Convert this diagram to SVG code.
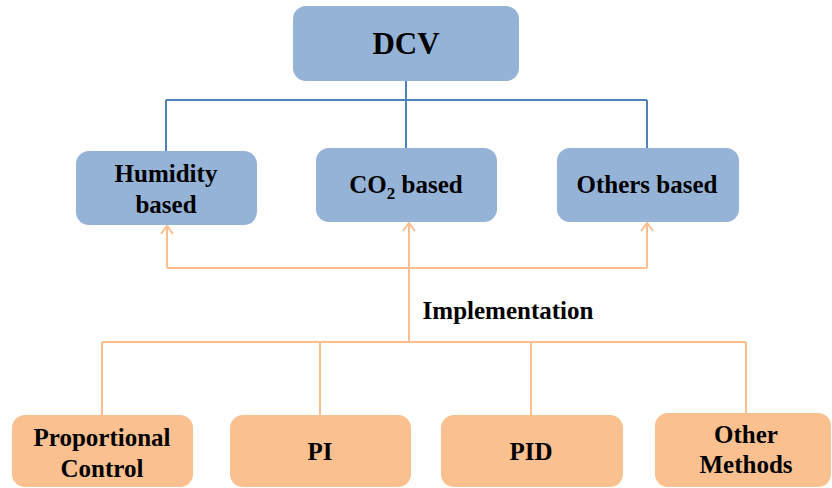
<svg xmlns="http://www.w3.org/2000/svg" width="832" height="488" viewBox="0 0 832 488">
  <defs>
    <style>
      .blue { fill: #95b3d7; }
      .orange { fill: #fac090; }
      .lbl { font-family: "Liberation Serif", "Times New Roman", "DejaVu Serif", serif; font-weight: bold; font-size: 25px; fill: #000; text-anchor: middle; }
      .big { font-size: 31px; }
      .wb { stroke: #4f81bd; stroke-width: 2; fill: none; }
      .wo { stroke: #fbbf8f; stroke-width: 2; fill: none; }
    </style>
    <marker id="chev" viewBox="0 0 10 14" refX="9" refY="7" markerWidth="10" markerHeight="14" markerUnits="userSpaceOnUse" orient="auto">
      <path d="M1,1 L9,7 L1,13" fill="none" stroke="#fbbf8f" stroke-width="2"/>
    </marker>
  </defs>

  <!-- connectors -->
  <g id="connectors">
    <!-- DCV tree -->
    <path class="wb" d="M406,81 V148 M166,100 H647 M166,100 V151 M647,100 V148"/>
    <!-- implementation feedback arrows -->
    <path class="wo" d="M167,268 H647"/>
    <path class="wo" d="M167,268 V226" marker-end="url(#chev)"/>
    <path class="wo" d="M647,268 V223" marker-end="url(#chev)"/>
    <path class="wo" d="M409,342 V223" marker-end="url(#chev)"/>
    <!-- methods bus -->
    <path class="wo" d="M102,342 H746 M102,342 V415 M320,342 V415 M531,342 V415 M746,342 V413"/>
  </g>

  <text class="lbl" x="508" y="319">Implementation</text>

  <g id="dcv">
    <rect class="blue" x="293" y="6" width="226" height="75" rx="13"/>
    <text class="lbl big" x="406" y="54">DCV</text>
  </g>

  <g id="humidity">
    <rect class="blue" x="76" y="151" width="181" height="74" rx="13"/>
    <text class="lbl" x="166" y="182">Humidity</text>
    <text class="lbl" x="166" y="213">based</text>
  </g>

  <g id="co2">
    <rect class="blue" x="316" y="148" width="181" height="74" rx="13"/>
    <text class="lbl" x="406" y="193">CO<tspan font-size="17" dy="6">2</tspan><tspan dy="-6"> based</tspan></text>
  </g>

  <g id="others">
    <rect class="blue" x="557" y="148" width="182" height="74" rx="13"/>
    <text class="lbl" x="647" y="193">Others based</text>
  </g>

  <g id="proportional">
    <rect class="orange" x="12" y="415" width="181" height="72" rx="13"/>
    <text class="lbl" x="102" y="446">Proportional</text>
    <text class="lbl" x="102" y="477">Control</text>
  </g>

  <g id="pi">
    <rect class="orange" x="230" y="415" width="181" height="72" rx="13"/>
    <text class="lbl" x="320" y="460">PI</text>
  </g>

  <g id="pid">
    <rect class="orange" x="441" y="415" width="182" height="72" rx="13"/>
    <text class="lbl" x="531" y="460">PID</text>
  </g>

  <g id="other-methods">
    <rect class="orange" x="655" y="413" width="176" height="74" rx="13"/>
    <text class="lbl" x="746" y="443">Other</text>
    <text class="lbl" x="746" y="473">Methods</text>
  </g>
</svg>
